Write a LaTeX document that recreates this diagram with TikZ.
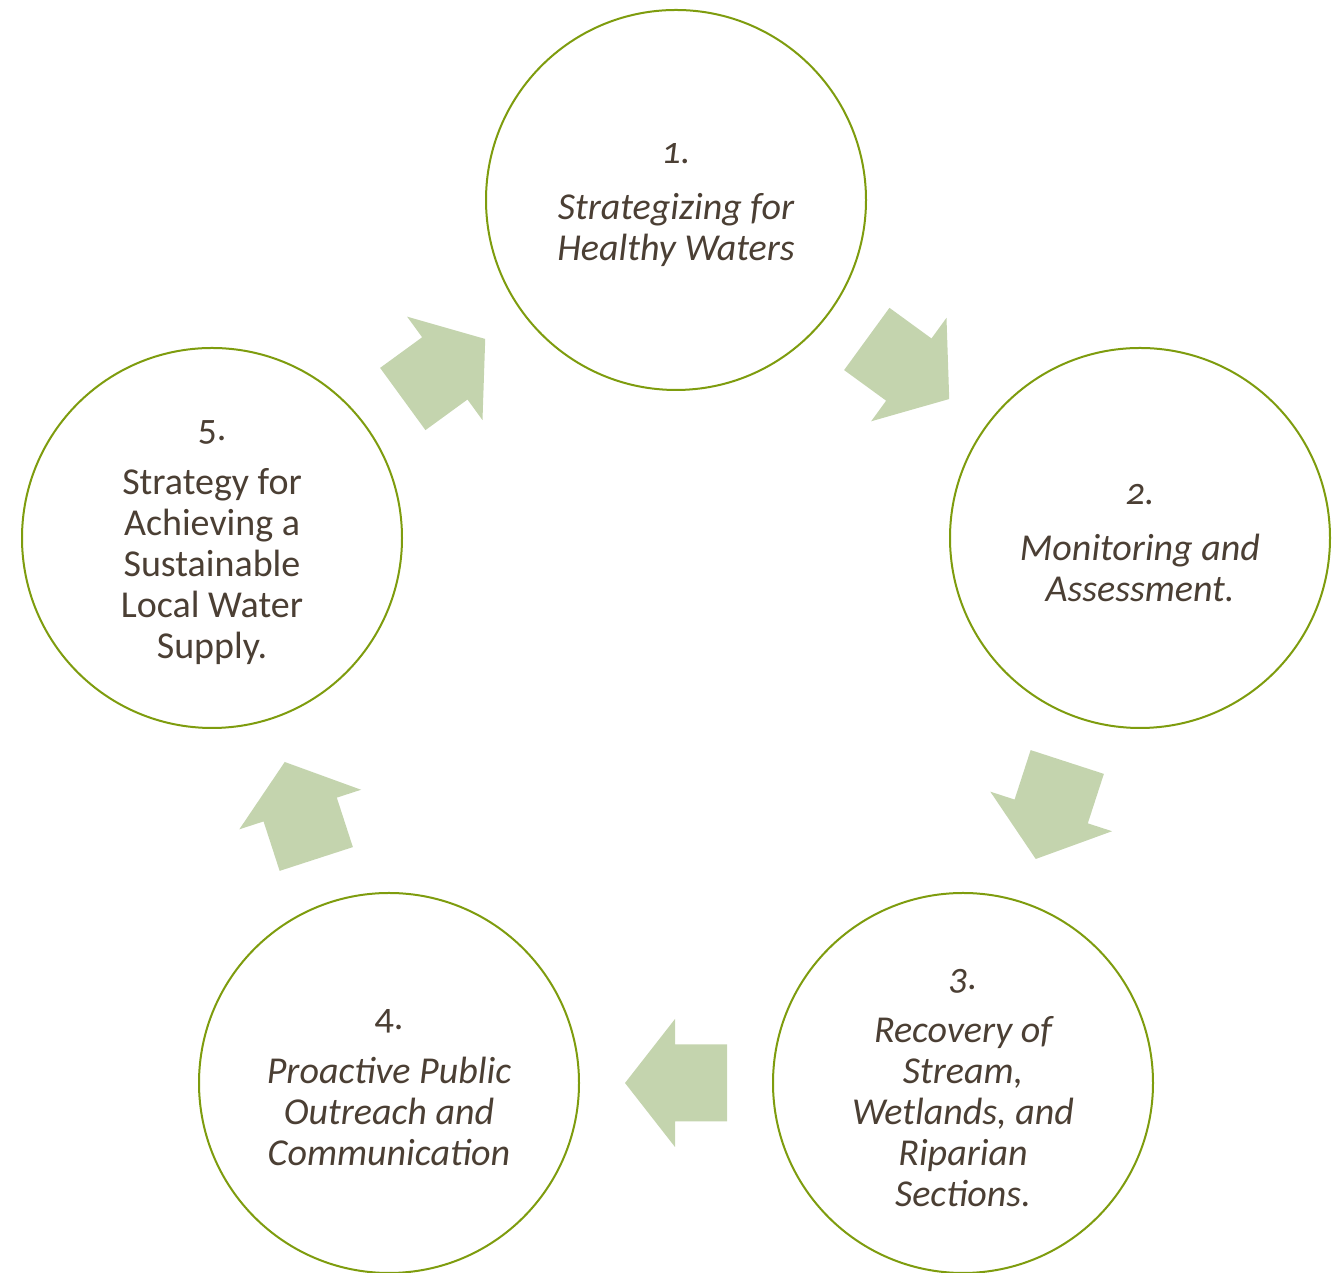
\documentclass[tikz,border=0pt]{standalone}
\usepackage{fontspec}
\setmainfont{Carlito}[Numbers=OldStyle]
\usetikzlibrary{calc}
\definecolor{ringgreen}{HTML}{7E9C0E}
\definecolor{arrowgreen}{HTML}{C4D4AE}
\definecolor{textbrown}{HTML}{4B3F34}
\tikzset{
  stage/.style={circle, draw=ringgreen, line width=1pt, fill=white, minimum size=190pt,
    inner sep=0pt},
  stagetext/.style={align=center, text=textbrown, inner sep=0pt, yshift=-2.5pt,
    font=\fontsize{19}{20.5}\selectfont},
  barrow/.pic={\fill[arrowgreen] (-51,-38.5) -- (1,-38.5) -- (1,-64) -- (51,0)
    -- (1,64) -- (1,38.5) -- (-51,38.5) -- cycle;}
}
\begin{document}
\begin{tikzpicture}[x=0.5pt,y=0.5pt]
\useasboundingbox (0,0) rectangle (1344,1273);
\node[stage] (c1) at (676,1073) {};
\node[stage] (c2) at (1140,735) {};
\node[stage] (c3) at (963,190) {};
\node[stage] (c4) at (389,190) {};
\node[stage] (c5) at (212,735) {};
\node[stagetext] (t1) at (c1.center) {\itshape 1.\\[7.5pt]\itshape Strategizing for\\\itshape Healthy Waters};
\node[stagetext] (t2) at (c2.center) {\itshape 2.\\[7.5pt]\itshape Monitoring and\\\itshape Assessment.};
\node[stagetext] (t3) at (c3.center) {\itshape 3.\\[6pt]\itshape Recovery of\\\itshape Stream,\\\itshape Wetlands, and\\\itshape Riparian\\\itshape Sections.};
\node[stagetext] (t4) at (c4.center) {4.\\[6.5pt]\itshape Proactive Public\\\itshape Outreach and\\\itshape Communication};
\node[stagetext] (t5) at (c5.center) {5.\\[6.5pt]Strategy for\\Achieving a\\Sustainable\\Local Water\\Supply.};
\path ($(c1)!0.5!(c2)$) pic[rotate=-36.07] {barrow};
\path ($(c2)!0.5!(c3)$) pic[rotate=-108] {barrow};
\path ($(c3)!0.5!(c4)$) pic[rotate=180] {barrow};
\path ($(c4)!0.5!(c5)$) pic[rotate=108] {barrow};
\path ($(c5)!0.5!(c1)$) pic[rotate=36.07] {barrow};
\end{tikzpicture}
\end{document}
